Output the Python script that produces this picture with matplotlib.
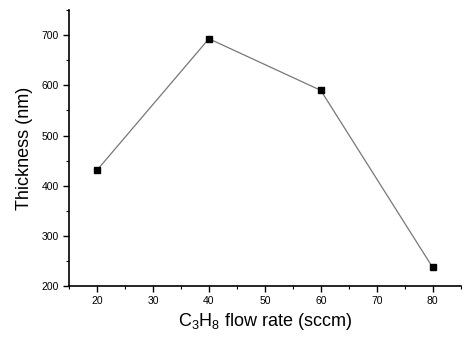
import numpy as np
import matplotlib
matplotlib.use("Agg")
import matplotlib.pyplot as plt
from matplotlib.ticker import MultipleLocator

plt.rcParams['font.family'] = ['Liberation Sans', 'DejaVu Sans']
plt.rcParams['mathtext.default'] = 'regular'

flow = [20, 40, 60, 80]  # sccm
thickness = [431, 693, 590, 237]  # nm

fig = plt.figure(figsize=(4.7, 3.38), dpi=100)
ax = fig.add_axes([0.147, 0.154, 0.833, 0.816])

ax.plot(flow, thickness, '-', color='#777777', lw=0.9,
        marker='s', ms=5, mfc='black', mec='black')

ax.set_xlim(15, 85)
ax.set_ylim(200, 750)
ax.xaxis.set_major_locator(MultipleLocator(10))
ax.xaxis.set_minor_locator(MultipleLocator(5))
ax.yaxis.set_major_locator(MultipleLocator(100))
ax.yaxis.set_minor_locator(MultipleLocator(50))
ax.set_xticks([20, 30, 40, 50, 60, 70, 80])
ax.set_yticks([200, 300, 400, 500, 600, 700])

for s in ['top', 'right']:
    ax.spines[s].set_visible(False)
for s in ['left', 'bottom']:
    ax.spines[s].set_linewidth(1.2)

ax.tick_params(which='major', direction='out', length=4, width=1, labelsize=7.5)
ax.tick_params(which='minor', direction='out', length=2.5, width=0.8)

ax.set_xlabel('C$_3$H$_8$ flow rate (sccm)', fontsize=13, labelpad=3)
ax.set_ylabel('Thickness (nm)', fontsize=13, labelpad=6)

plt.savefig('out.png', dpi=100)
